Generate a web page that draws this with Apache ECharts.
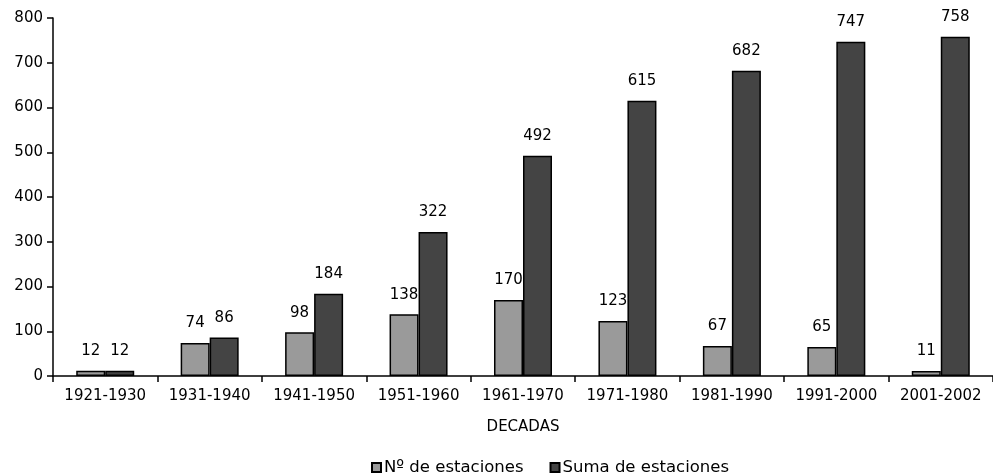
<!DOCTYPE html>
<html><head><meta charset="utf-8">
<script src="https://cdn.jsdelivr.net/npm/echarts@6/dist/echarts.min.js"></script>
<style>html,body{margin:0;padding:0;background:#fff}#c{width:993px;height:476px}</style>
</head><body><div id="c"></div>
<script>
const categories = ['1921-1930','1931-1940','1941-1950','1951-1960','1961-1970','1971-1980','1981-1990','1991-2000','2001-2002'];
const numEstaciones = [12, 74, 98, 138, 170, 123, 67, 65, 11];
const sumaEstaciones = [12, 86, 184, 322, 492, 615, 682, 747, 758];
const yTicks = [0, 100, 200, 300, 400, 500, 600, 700, 800];
const seriesNames = ['Nº de estaciones', 'Suma de estaciones'];

const FONT = 'DejaVu Sans';
const chart = echarts.init(document.getElementById('c'), null, {renderer: 'canvas'});
const lbl = {show: true, position: 'top', distance: 12, color: '#000', fontFamily: FONT, fontSize: 15};
chart.setOption({
  animation: false,
  textStyle: {fontFamily: FONT},
  grid: {left: 53, top: 18, width: 946, height: 358, containLabel: false},
  legend: {
    left: 366, top: 454, itemWidth: 9, itemHeight: 9, itemGap: 26,
    textStyle: {fontFamily: FONT, fontSize: 16.5, color: '#000', padding: [0,0,0,-2]},
    data: seriesNames.map(n => ({name: n, icon: 'rect'}))
  },
  xAxis: {
    type: 'category', data: categories,
    name: 'DECADAS', nameLocation: 'middle', nameGap: 44,
    nameTextStyle: {fontFamily: FONT, fontSize: 15, color: '#000'},
    axisLine: {lineStyle: {color: '#000', width: 1.5}},
    axisTick: {show: true, interval: 0, length: 6, lineStyle: {color: '#000', width: 1.5}},
    axisLabel: {interval: 0, fontFamily: FONT, fontSize: 15, color: '#000', margin: 13}
  },
  yAxis: {
    type: 'value', min: yTicks[0], max: yTicks[yTicks.length-1], interval: 100,
    axisLine: {show: true, lineStyle: {color: '#000', width: 1.5}},
    axisTick: {show: true, length: 6, lineStyle: {color: '#000', width: 1.5}},
    splitLine: {show: false},
    axisLabel: {fontFamily: FONT, fontSize: 15, color: '#000', margin: 10}
  },
  series: [
    {name: seriesNames[0], type: 'bar', data: numEstaciones, barWidth: 29, barGap: '0%',
     itemStyle: {color: '#9a9a9a', borderColor: '#000', borderWidth: 1.5}, label: lbl},
    {name: seriesNames[1], type: 'bar', data: sumaEstaciones, barWidth: 29,
     itemStyle: {color: '#444444', borderColor: '#000', borderWidth: 1.5}, label: lbl}
  ]
});
</script></body></html>
